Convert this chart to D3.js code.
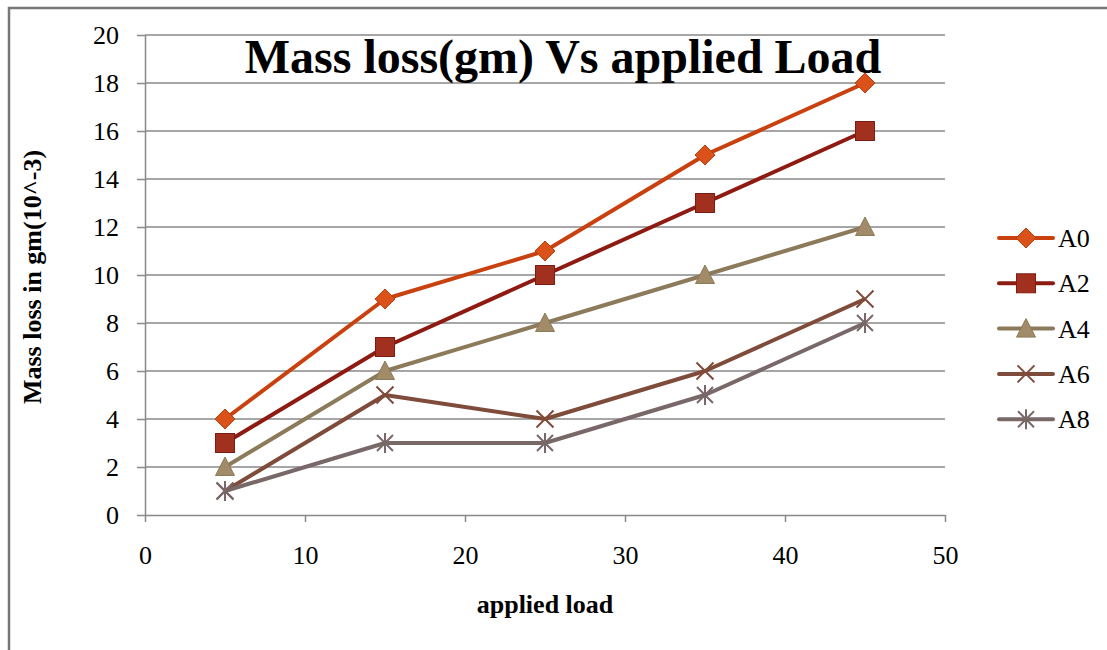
<!DOCTYPE html>
<html>
<head>
<meta charset="utf-8">
<script src="https://cdn.jsdelivr.net/npm/d3@7"></script>
<style>
  body { margin: 0; background: #fff; }
  text { font-family: "Liberation Serif", "Times New Roman", serif; fill: #000; }
</style>
</head>
<body>
<svg width="1107" height="650"></svg>
<script>
// chart data
var loads = [5, 15, 25, 35, 45];
var seriesNames = ["A0", "A2", "A4", "A6", "A8"];
var a0 = [4, 9, 11, 15, 18];
var a2 = [3, 7, 10, 13, 16];
var a4 = [2, 6, 8, 10, 12];
var a6 = [1, 5, 4, 6, 9];
var a8 = [1, 3, 3, 5, 8];
var xTicks = [0, 10, 20, 30, 40, 50];
var yTicks = [0, 2, 4, 6, 8, 10, 12, 14, 16, 18, 20];

var seriesValues = [a0, a2, a4, a6, a8];
// line colour, marker fill, marker stroke, marker type
var styles = [
  {line: "#C9410F", fill: "#DA5119", stroke: "#BC3F10", mark: "diamond"},
  {line: "#8E1B12", fill: "#A2301F", stroke: "#7F1C12", mark: "square"},
  {line: "#8C7B5A", fill: "#A18B68", stroke: "#8C7A58", mark: "triangle"},
  {line: "#7F4B3B", fill: "none", stroke: "#7F4B3B", mark: "cross"},
  {line: "#786868", fill: "none", stroke: "#786868", mark: "star"}
];

var svg = d3.select("svg");

// outer frame
svg.append("path")
  .attr("d", "M9,652 V8 H1110")
  .attr("fill", "none")
  .attr("stroke", "#777")
  .attr("stroke-width", 2.5);

var x = d3.scaleLinear().domain([0, 50]).range([145, 945]);
var y = d3.scaleLinear().domain([0, 20]).range([515, 35]);

// horizontal gridlines
svg.append("g").selectAll("line")
  .data(yTicks.filter(d => d > 0))
  .enter().append("line")
  .attr("x1", x(0)).attr("x2", x(50))
  .attr("y1", d => y(d)).attr("y2", d => y(d))
  .attr("stroke", "#888").attr("stroke-width", 1.5);

// axes
var yAxis = svg.append("g")
  .attr("transform", "translate(" + x(0) + ",0)")
  .call(d3.axisLeft(y).tickValues(yTicks).tickSize(8).tickPadding(18).tickSizeOuter(0));
var xAxis = svg.append("g")
  .attr("transform", "translate(0," + y(0) + ")")
  .call(d3.axisBottom(x).tickValues(xTicks).tickSize(7).tickPadding(24).tickSizeOuter(0));

[yAxis, xAxis].forEach(function(a) {
  a.select(".domain").attr("stroke", "#888").attr("stroke-width", 1.5);
  a.selectAll(".tick line").attr("stroke", "#888").attr("stroke-width", 1.5);
  a.selectAll(".tick text")
    .style("font-family", "'Liberation Serif', serif")
    .style("font-size", "26px")
    .attr("fill", "#000");
});

// lines
var line = d3.line()
  .x((d, i) => x(loads[i]))
  .y(d => y(d));

svg.append("g").selectAll("path")
  .data(seriesValues)
  .enter().append("path")
  .attr("d", line)
  .attr("fill", "none")
  .attr("stroke", (d, i) => styles[i].line)
  .attr("stroke-width", 4)
  .attr("stroke-linejoin", "round");

// marker drawing helper
function drawMarker(sel, st) {
  if (st.mark === "diamond") {
    sel.append("path").attr("d", "M0,-10 L10,0 L0,10 L-10,0 Z")
      .attr("fill", st.fill).attr("stroke", st.stroke).attr("stroke-width", 1);
  } else if (st.mark === "square") {
    sel.append("rect").attr("x", -9.5).attr("y", -9.5).attr("width", 19).attr("height", 19)
      .attr("fill", st.fill).attr("stroke", st.stroke).attr("stroke-width", 1);
  } else if (st.mark === "triangle") {
    sel.append("path").attr("d", "M0,-10 L9.5,8.5 L-9.5,8.5 Z")
      .attr("fill", st.fill).attr("stroke", st.stroke).attr("stroke-width", 1);
  } else if (st.mark === "cross") {
    sel.append("path").attr("d", "M-8.5,-8.5 L8.5,8.5 M8.5,-8.5 L-8.5,8.5")
      .attr("fill", "none").attr("stroke", st.stroke).attr("stroke-width", 2);
  } else {
    sel.append("path").attr("d", "M-8,-8 L8,8 M8,-8 L-8,8 M0,-10 L0,10")
      .attr("fill", "none").attr("stroke", st.stroke).attr("stroke-width", 2);
  }
}

seriesValues.forEach(function(vals, si) {
  vals.forEach(function(v, i) {
    var g = svg.append("g").attr("transform", "translate(" + x(loads[i]) + "," + y(v) + ")");
    drawMarker(g, styles[si]);
  });
});

// title
svg.append("text")
  .attr("x", 563).attr("y", 73)
  .attr("text-anchor", "middle")
  .style("font-size", "48px")
  .style("font-weight", "bold")
  .text("Mass loss(gm) Vs applied Load");

// axis titles
svg.append("text")
  .attr("transform", "translate(41,277) rotate(-90)")
  .attr("text-anchor", "middle")
  .style("font-size", "26px")
  .style("font-weight", "bold")
  .text("Mass loss in gm(10^-3)");

svg.append("text")
  .attr("x", 545).attr("y", 613)
  .attr("text-anchor", "middle")
  .style("font-size", "26px")
  .style("font-weight", "bold")
  .text("applied load");

// legend
var legend = svg.append("g");
seriesNames.forEach(function(name, i) {
  var ly = 238 + i * 45.3;
  var g = legend.append("g");
  g.append("line")
    .attr("x1", 999).attr("x2", 1053)
    .attr("y1", ly).attr("y2", ly)
    .attr("stroke", styles[i].line).attr("stroke-width", 4)
    .attr("stroke-linecap", "round");
  var m = g.append("g").attr("transform", "translate(1026," + ly + ")");
  drawMarker(m, styles[i]);
  g.append("text")
    .attr("x", 1058).attr("y", ly + 9)
    .style("font-size", "26px")
    .text(name);
});
</script>
</body>
</html>
